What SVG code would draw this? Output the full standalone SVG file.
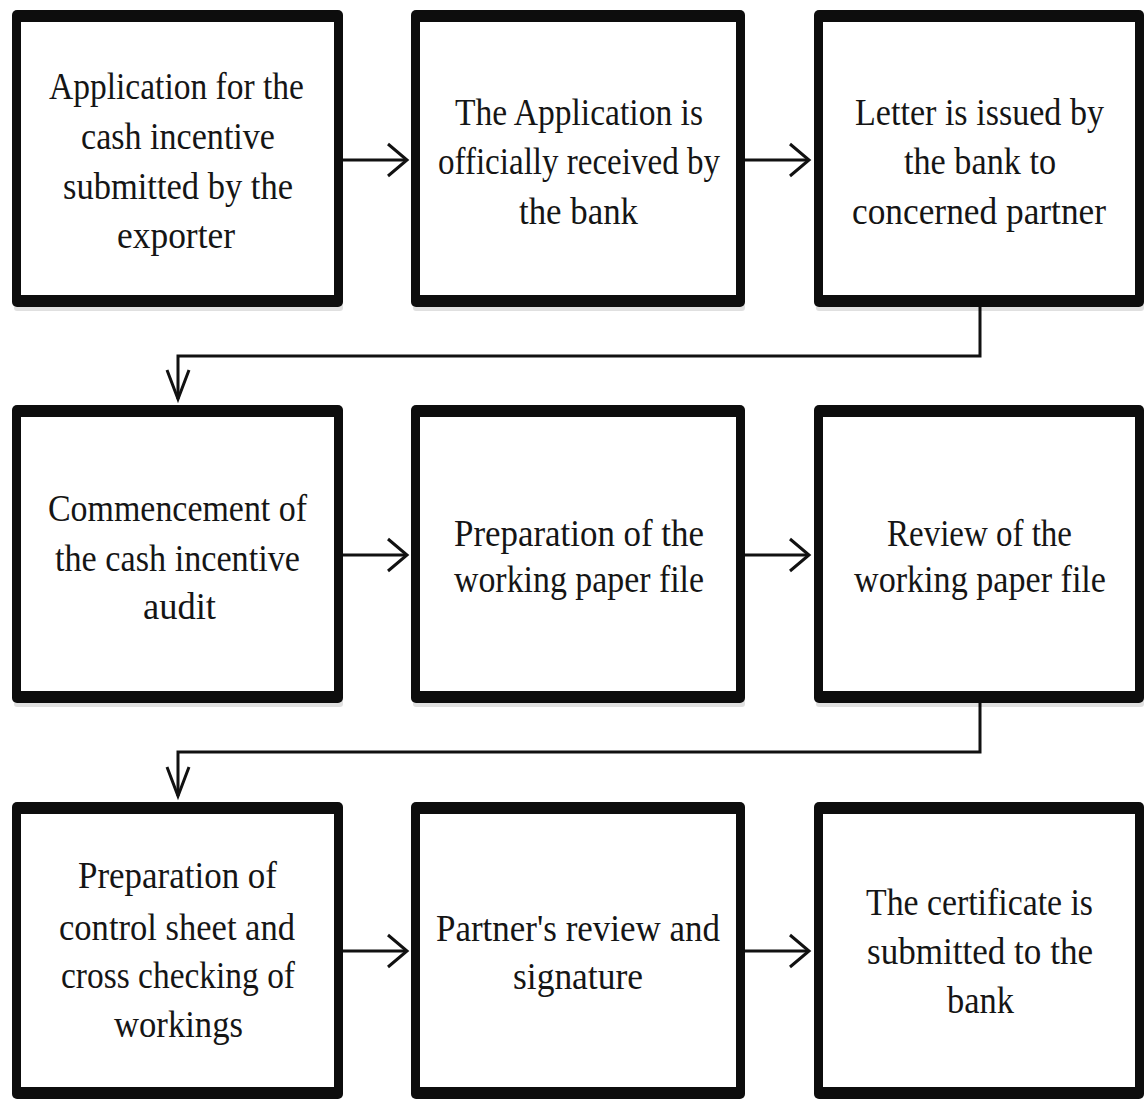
<svg xmlns="http://www.w3.org/2000/svg" width="1147" height="1101" viewBox="0 0 1147 1101">
<style>
.outer{fill:#0d0d0d}
.inner{fill:#ffffff}
.shadow{fill:#000;opacity:0.12}
text{font-family:"Liberation Serif","Times New Roman",serif;font-size:37px;fill:#151515}
.conn{fill:none;stroke:#111;stroke-width:3}
</style>
<defs>
<marker id="ah" markerUnits="userSpaceOnUse" viewBox="-24 -19 27 38" markerWidth="27" markerHeight="38" refX="0" refY="0" orient="auto" overflow="visible">
<path d="M-19,-16 L0,0 L-19,16" fill="none" stroke="#111" stroke-width="3"/>
</marker>
<marker id="av" markerUnits="userSpaceOnUse" viewBox="-34 -14 37 28" markerWidth="37" markerHeight="28" refX="0" refY="0" orient="auto" overflow="visible">
<path d="M-29,-11 L0,0 L-29,11" fill="none" stroke="#111" stroke-width="3"/>
</marker>
</defs>
<rect width="1147" height="1101" fill="#ffffff"/>

<g id="connectors">
<path class="conn" d="M343,160 H407" marker-end="url(#ah)"/>
<path class="conn" d="M745,160 H809" marker-end="url(#ah)"/>
<path class="conn" d="M980,307 V356 H178 V399" marker-end="url(#av)"/>
<path class="conn" d="M343,555 H407" marker-end="url(#ah)"/>
<path class="conn" d="M745,555 H809" marker-end="url(#ah)"/>
<path class="conn" d="M980,703 V752 H178 V796" marker-end="url(#av)"/>
<path class="conn" d="M343,951 H407" marker-end="url(#ah)"/>
<path class="conn" d="M745,951 H809" marker-end="url(#ah)"/>
</g>

<g id="node1">
<rect class="shadow" x="14" y="303" width="329" height="8" rx="3"/>
<rect class="outer" x="12" y="10" width="331" height="297" rx="5"/>
<rect class="inner" x="21" y="22" width="313" height="273"/>
<text x="49" y="99" textLength="255" lengthAdjust="spacingAndGlyphs">Application for the</text>
<text x="81" y="149" textLength="194" lengthAdjust="spacingAndGlyphs">cash incentive</text>
<text x="63" y="199" textLength="230" lengthAdjust="spacingAndGlyphs">submitted by the</text>
<text x="117" y="248" textLength="118" lengthAdjust="spacingAndGlyphs">exporter</text>
</g>

<g id="node2">
<rect class="shadow" x="413" y="303" width="332" height="8" rx="3"/>
<rect class="outer" x="411" y="10" width="334" height="297" rx="5"/>
<rect class="inner" x="420" y="22" width="316" height="273"/>
<text x="455" y="125" textLength="248" lengthAdjust="spacingAndGlyphs">The Application is</text>
<text x="438" y="174" textLength="282" lengthAdjust="spacingAndGlyphs">officially received by</text>
<text x="519" y="224" textLength="119" lengthAdjust="spacingAndGlyphs">the bank</text>
</g>

<g id="node3">
<rect class="shadow" x="816" y="303" width="328" height="8" rx="3"/>
<rect class="outer" x="814" y="10" width="330" height="297" rx="5"/>
<rect class="inner" x="823" y="22" width="312" height="273"/>
<text x="855" y="125" textLength="249" lengthAdjust="spacingAndGlyphs">Letter is issued by</text>
<text x="904" y="174" textLength="152" lengthAdjust="spacingAndGlyphs">the bank to</text>
<text x="852" y="224" textLength="254" lengthAdjust="spacingAndGlyphs">concerned partner</text>
</g>

<g id="node4">
<rect class="shadow" x="14" y="699" width="329" height="8" rx="3"/>
<rect class="outer" x="12" y="405" width="331" height="298" rx="5"/>
<rect class="inner" x="21" y="417" width="313" height="274"/>
<text x="48" y="521" textLength="259" lengthAdjust="spacingAndGlyphs">Commencement of</text>
<text x="55" y="571" textLength="245" lengthAdjust="spacingAndGlyphs">the cash incentive</text>
<text x="143" y="619" textLength="73" lengthAdjust="spacingAndGlyphs">audit</text>
</g>

<g id="node5">
<rect class="shadow" x="413" y="699" width="332" height="8" rx="3"/>
<rect class="outer" x="411" y="405" width="334" height="298" rx="5"/>
<rect class="inner" x="420" y="417" width="316" height="274"/>
<text x="454" y="546" textLength="250" lengthAdjust="spacingAndGlyphs">Preparation of the</text>
<text x="454" y="592" textLength="250" lengthAdjust="spacingAndGlyphs">working paper file</text>
</g>

<g id="node6">
<rect class="shadow" x="816" y="699" width="328" height="8" rx="3"/>
<rect class="outer" x="814" y="405" width="330" height="298" rx="5"/>
<rect class="inner" x="823" y="417" width="312" height="274"/>
<text x="887" y="546" textLength="185" lengthAdjust="spacingAndGlyphs">Review of the</text>
<text x="854" y="592" textLength="252" lengthAdjust="spacingAndGlyphs">working paper file</text>
</g>

<g id="node7">
<rect class="outer" x="12" y="802" width="331" height="297" rx="5"/>
<rect class="inner" x="21" y="814" width="313" height="273"/>
<text x="78" y="888" textLength="199" lengthAdjust="spacingAndGlyphs">Preparation of</text>
<text x="59" y="940" textLength="236" lengthAdjust="spacingAndGlyphs">control sheet and</text>
<text x="61" y="988" textLength="234" lengthAdjust="spacingAndGlyphs">cross checking of</text>
<text x="114" y="1037" textLength="129" lengthAdjust="spacingAndGlyphs">workings</text>
</g>

<g id="node8">
<rect class="outer" x="411" y="802" width="334" height="297" rx="5"/>
<rect class="inner" x="420" y="814" width="316" height="273"/>
<text x="436" y="941" textLength="284" lengthAdjust="spacingAndGlyphs">Partner's review and</text>
<text x="513" y="989" textLength="130" lengthAdjust="spacingAndGlyphs">signature</text>
</g>

<g id="node9">
<rect class="outer" x="814" y="802" width="330" height="297" rx="5"/>
<rect class="inner" x="823" y="814" width="312" height="273"/>
<text x="866" y="915" textLength="227" lengthAdjust="spacingAndGlyphs">The certificate is</text>
<text x="867" y="964" textLength="226" lengthAdjust="spacingAndGlyphs">submitted to the</text>
<text x="947" y="1013" textLength="67" lengthAdjust="spacingAndGlyphs">bank</text>
</g>
</svg>
